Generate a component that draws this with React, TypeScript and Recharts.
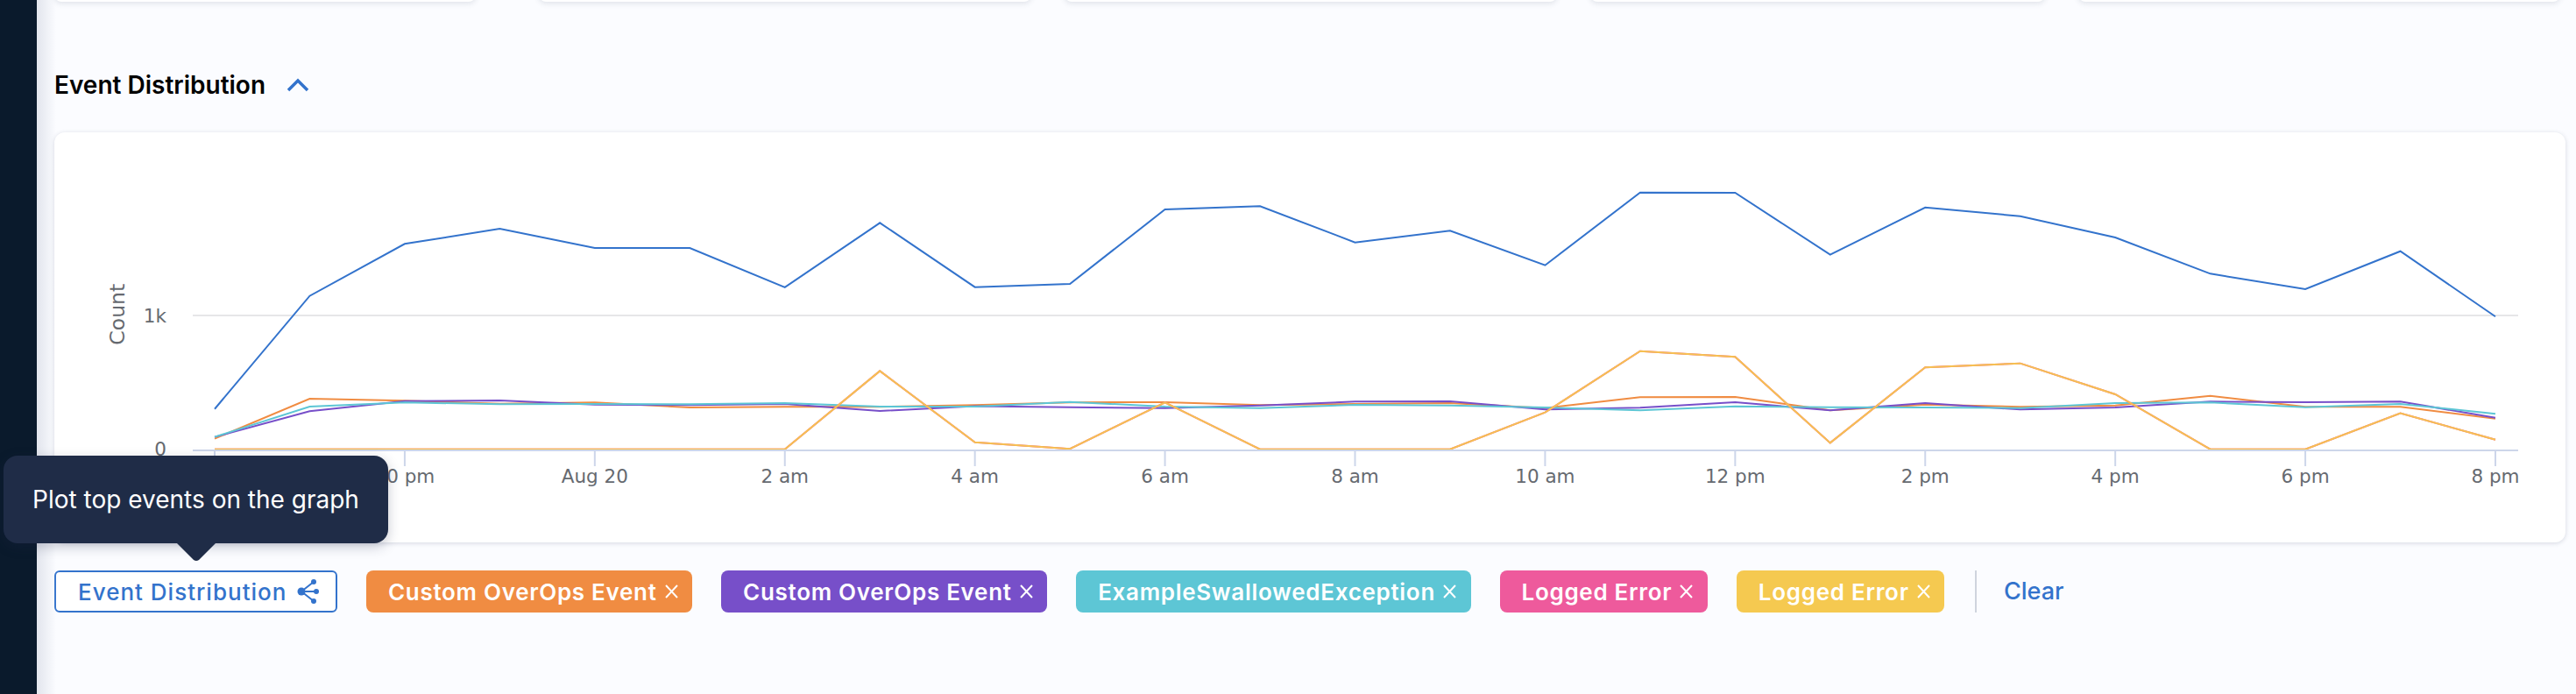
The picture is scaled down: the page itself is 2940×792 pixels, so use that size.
import React from 'react';
import { LineChart, Line, XAxis, YAxis, CartesianGrid, Label } from 'recharts';

const hours = [0, 1, 2, 3, 4, 5, 6, 7, 8, 9, 10, 11, 12, 13, 14, 15, 16, 17, 18, 19, 20, 21, 22, 23, 24];
const tickHours = [0, 2, 4, 6, 8, 10, 12, 14, 16, 18, 20, 22, 24];
const tickLabels = ['8 pm', '10 pm', 'Aug 20', '2 am', '4 am', '6 am', '8 am', '10 am', '12 pm', '2 pm', '4 pm', '6 pm', '8 pm'];

const totalEvents = [301, 1146, 1535, 1648, 1504, 1504, 1210, 1692, 1212, 1236, 1792, 1817, 1546, 1633, 1375, 1919, 1917, 1454, 1807, 1742, 1583, 1312, 1197, 1480, 992];
const overOpsA = [79, 378, 363, 341, 350, 312, 317, 317, 330, 350, 352, 330, 339, 345, 308, 389, 391, 291, 334, 317, 327, 399, 317, 317, 229];
const overOpsB = [92, 284, 360, 365, 334, 330, 339, 286, 323, 314, 308, 327, 356, 358, 297, 310, 352, 291, 345, 297, 312, 356, 352, 356, 236];
const swallowed = [92, 319, 350, 337, 339, 337, 345, 319, 319, 354, 319, 308, 332, 327, 312, 291, 321, 314, 312, 308, 345, 350, 314, 339, 265];
const loggedPink = [0, 0, 0, 0, 0, 0, 0, 585, 52, 3, 350, 0, 0, 0, 275, 733, 690, 48, 612, 642, 411, 0, 0, 269, 72];
const loggedYellow = [0, 0, 0, 0, 0, 0, 0, 585, 52, 3, 350, 0, 0, 0, 275, 733, 690, 48, 612, 642, 411, 0, 0, 269, 72];

const chipLabels = ['Custom OverOps Event', 'Custom OverOps Event', 'ExampleSwallowedException', 'Logged Error', 'Logged Error'];
const chipColors = ['#f08c42', '#774fc9', '#5dc6d5', '#ee5a9c', '#f5c950'];

const data = hours.map((h, i) => ({
  hour: h,
  total: totalEvents[i],
  a: overOpsA[i],
  b: overOpsB[i],
  c: swallowed[i],
  d: loggedPink[i],
  e: loggedYellow[i],
}));

const BLUE = '#3373cc';
const FONT = 'Inter, sans-serif';
const tickStyle = { fontSize: 21.5, fill: '#666a70', fontFamily: '"DejaVu Sans", sans-serif' };

function ChipClose() {
  return (
    <svg width="17" height="16" viewBox="0 0 17 16" style={{ marginLeft: 8, flex: 'none' }}>
      <path d="M2 1 L15 15 M15 1 L2 15" stroke="#fff" strokeWidth="2" fill="none" />
    </svg>
  );
}

function ShareIcon() {
  return (
    <svg width="26" height="28" viewBox="0 0 26 28" style={{ marginLeft: 12, flex: 'none' }}>
      <path d="M5 14 L24 14 M5 14 L19 3 M5 14 L19 25" stroke={BLUE} strokeWidth="2" fill="none" />
      <circle cx="5" cy="14" r="4.5" fill={BLUE} />
      <circle cx="19" cy="3" r="3" fill={BLUE} />
      <circle cx="19" cy="25" r="3" fill={BLUE} />
      <circle cx="22" cy="14" r="3" fill={BLUE} />
    </svg>
  );
}

export default function App() {
  return (
    <div style={{ position: 'absolute', left: 0, top: 0, width: 2940, height: 792, overflow: 'hidden', background: '#fbfcff', fontFamily: FONT }}>
      {/* row of cards cut off by the top of the page */}
      {[[62, 543], [615, 1177], [1215, 1777], [1815, 2334], [2372, 2922]].map(([l, r]) => (
        <div key={l} style={{ position: 'absolute', left: l, width: r - l, top: -30, height: 32, background: '#fff', borderRadius: 8, boxShadow: '0 2px 6px rgba(60,70,100,0.14)' }} />
      ))}

      <div style={{ position: 'absolute', left: 62, top: 79, fontSize: 28, lineHeight: '36px', fontWeight: 600, color: '#000' }}>Event Distribution</div>
      <svg width="26" height="16" viewBox="0 0 26 16" style={{ position: 'absolute', left: 327, top: 89 }}>
        <path d="M2 14 L13 3 L24 14" stroke={BLUE} strokeWidth="3.5" fill="none" />
      </svg>

      <div style={{ position: 'absolute', left: 62, top: 151, width: 2866, height: 468, background: '#fff', borderRadius: 12, boxShadow: '0 1px 5px rgba(60,70,100,0.2)' }}>
        <LineChart width={2866} height={468} data={data} margin={{ top: 56.3, right: 54, bottom: 0, left: 0 }}>
          <CartesianGrid vertical={false} horizontalValues={[1000]} stroke="#e6e6e8" strokeWidth={2} />
          <XAxis
            dataKey="hour"
            type="number"
            domain={[0, 24]}
            ticks={tickHours}
            interval={0}
            height={105}
            padding={{ left: 25, right: 26 }}
            axisLine={{ stroke: '#cdd6ea', strokeWidth: 2 }}
            tickLine={{ stroke: '#cdd6ea', strokeWidth: 2 }}
            tickSize={18}
            tick={tickStyle}
            tickMargin={4}
            tickFormatter={(h: number) => tickLabels[tickHours.indexOf(h)]}
          />
          <YAxis
            width={158}
            domain={[-8.5, 2000]}
            ticks={[0, 1000]}
            allowDataOverflow
            axisLine={false}
            tickLine={false}
            tickSize={0}
            tickMargin={30}
            tick={tickStyle}
            tickFormatter={(v: number) => (v === 1000 ? '1k' : String(v))}
          >
            <Label value="Count" angle={-90} position="insideLeft" dx={67} dy={33} style={{ fontSize: 23.5, fill: '#666a70', fontFamily: '"DejaVu Sans", sans-serif' }} />
          </YAxis>
          <Line dataKey="total" stroke={BLUE} strokeWidth={2} dot={false} isAnimationActive={false} />
          <Line dataKey="a" stroke="#f08c42" strokeWidth={2} dot={false} isAnimationActive={false} />
          <Line dataKey="b" stroke="#774fc9" strokeWidth={2} dot={false} isAnimationActive={false} />
          <Line dataKey="c" stroke="#5dc6d5" strokeWidth={2} dot={false} isAnimationActive={false} />
          <Line dataKey="d" stroke="#ee5a9c" strokeWidth={2} dot={false} isAnimationActive={false} />
          <Line dataKey="e" stroke="#f6c152" strokeWidth={2} dot={false} isAnimationActive={false} />
        </LineChart>
      </div>

      {/* button row under the chart */}
      <div style={{ position: 'absolute', left: 62, top: 651, height: 48, display: 'flex', gap: 33, alignItems: 'stretch' }}>
        <div style={{ display: 'flex', alignItems: 'center', boxSizing: 'border-box', width: 323, paddingLeft: 25, background: '#fff', border: `2px solid ${BLUE}`, borderRadius: 6, color: BLUE, fontSize: 26, fontWeight: 500, letterSpacing: 1, whiteSpace: 'nowrap' }}>
          Event Distribution
          <ShareIcon />
        </div>
        {chipLabels.map((label, i) => (
          <div key={i} style={{ display: 'flex', alignItems: 'center', padding: '0 15.5px 0 25px', background: chipColors[i], borderRadius: 8, color: '#fff', fontSize: 26, fontWeight: 600, letterSpacing: 0.7, whiteSpace: 'nowrap' }}>
            {label}
            <ChipClose />
          </div>
        ))}
      </div>
      <div style={{ position: 'absolute', left: 2254, top: 651, width: 1.5, height: 48, background: '#cfd4de' }} />
      <div style={{ position: 'absolute', left: 2287, top: 651, lineHeight: '48px', fontSize: 27, fontWeight: 500, color: BLUE }}>Clear</div>

      {/* dark side rail */}
      <div style={{ position: 'absolute', left: 42, top: 0, width: 22, height: 792, background: 'linear-gradient(to right, #e2e5ed, rgba(226,229,237,0))' }} />
      <div style={{ position: 'absolute', left: 0, top: 0, width: 42, height: 792, background: '#0a1a2c' }} />

      {/* tooltip over the axis and the rail */}
      <div style={{ position: 'absolute', left: 4, top: 520, width: 439, height: 100, background: '#1f2c47', borderRadius: 16, color: '#fff', fontSize: 28, lineHeight: '100px', textAlign: 'center', whiteSpace: 'nowrap', boxShadow: '0 4px 14px rgba(30,40,70,0.25)' }}>
        Plot top events on the graph
      </div>
      <svg width="50" height="22" viewBox="0 0 50 22" style={{ position: 'absolute', left: 199, top: 619 }}>
        <path d="M2 0 L48 0 L28 20 Q25 22 22 20 Z" fill="#1f2c47" />
      </svg>
    </div>
  );
}
